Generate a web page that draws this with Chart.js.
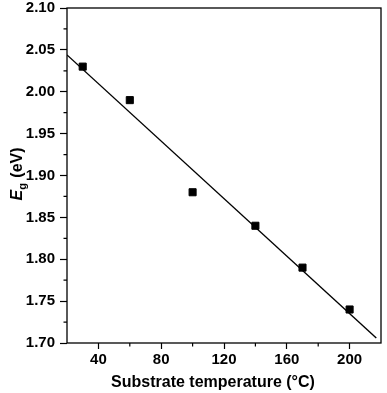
<!DOCTYPE html>
<html>
<head>
<meta charset="utf-8">
<script src="https://cdn.jsdelivr.net/npm/chart.js@4"></script>
<style>
  html, body { margin: 0; padding: 0; background: #fff; }
  #chart { display: block; }
</style>
</head>
<body>
<canvas id="chart" width="387" height="393"></canvas>
<script>
// data
const temperature = [30, 60, 100, 140, 170, 200];
const bandGap = [2.03, 1.99, 1.88, 1.84, 1.79, 1.74];
// end points of the linear fit
const fitX = [20, 217];
const fitY = [2.044, 1.706];

const xTicks = [40, 80, 120, 160, 200];
const xMinorTicks = [60, 100, 140, 180];
const yTicks = [1.70, 1.75, 1.80, 1.85, 1.90, 1.95, 2.00, 2.05, 2.10];
const yMinorTicks = [1.725, 1.775, 1.825, 1.875, 1.925, 1.975, 2.025, 2.075];

const FONT = "'Liberation Sans', Arial, sans-serif";

// frame, minor ticks and axis titles
const framePlugin = {
    id: 'frame',
    afterDraw(chart) {
        const ctx = chart.ctx;
        const area = chart.chartArea;
        const xs = chart.scales.x;
        const ys = chart.scales.y;
        ctx.save();
        ctx.strokeStyle = '#000';
        ctx.lineWidth = 1.3;
        ctx.strokeRect(area.left, area.top, area.right - area.left, area.bottom - area.top);

        // minor ticks
        ctx.lineWidth = 1.2;
        ctx.beginPath();
        xMinorTicks.forEach(v => {
            const px = xs.getPixelForValue(v);
            ctx.moveTo(px, area.bottom);
            ctx.lineTo(px, area.bottom + 3.5);
        });
        yMinorTicks.forEach(v => {
            const py = ys.getPixelForValue(v);
            ctx.moveTo(area.left, py);
            ctx.lineTo(area.left - 3.5, py);
        });
        ctx.stroke();

        // x title
        ctx.fillStyle = '#000';
        ctx.font = 'bold 16px ' + FONT;
        ctx.textAlign = 'center';
        ctx.textBaseline = 'alphabetic';
        ctx.fillText('Substrate temperature (°C)', 213, 387);

        // y title: E_g (eV)
        ctx.translate(22, 174);
        ctx.rotate(-Math.PI / 2);
        ctx.textAlign = 'left';
        const fE = 'italic bold 16px ' + FONT;
        const fSub = 'bold 11px ' + FONT;
        const fRest = 'bold 16px ' + FONT;
        ctx.font = fE; const wE = ctx.measureText('E').width;
        ctx.font = fSub; const wG = ctx.measureText('g').width + 1;
        ctx.font = fRest; const wR = ctx.measureText(' (eV)').width;
        let x0 = -(wE + wG + wR) / 2;
        ctx.font = fE; ctx.fillText('E', x0, 0);
        ctx.font = fSub; ctx.fillText('g', x0 + wE, 4);
        ctx.font = fRest; ctx.fillText(' (eV)', x0 + wE + wG, 0);
        ctx.restore();
    }
};

new Chart(document.getElementById('chart'), {
    type: 'scatter',
    data: {
        datasets: [
            {
                label: 'Eg',
                data: temperature.map((t, i) => ({ x: t, y: bandGap[i] })),
                pointStyle: 'rect',
                pointRadius: 5,
                backgroundColor: '#000',
                borderColor: '#000',
                borderWidth: 1
            },
            {
                label: 'fit',
                data: fitX.map((t, i) => ({ x: t, y: fitY[i] })),
                showLine: true,
                pointRadius: 0,
                borderColor: '#000',
                borderWidth: 1.4
            }
        ]
    },
    options: {
        responsive: false,
        animation: false,
        layout: { padding: { top: 8, right: 2, left: 0, bottom: 0 } },
        plugins: {
            legend: { display: false },
            tooltip: { enabled: false }
        },
        scales: {
            x: {
                type: 'linear',
                min: 20,
                max: 220,
                afterBuildTicks: s => { s.ticks = xTicks.map(v => ({ value: v })); },
                afterFit: s => { s.height = 50; s.paddingLeft = 0; s.paddingRight = 0; },
                border: { display: false },
                grid: {
                    drawOnChartArea: false,
                    drawTicks: true,
                    tickLength: 6,
                    tickColor: '#000',
                    tickWidth: 1.2
                },
                ticks: {
                    color: '#000',
                    padding: 2,
                    maxRotation: 0,
                    font: { family: FONT, size: 15, weight: 'bold' }
                }
            },
            y: {
                type: 'linear',
                min: 1.70,
                max: 2.10,
                afterBuildTicks: s => { s.ticks = yTicks.map(v => ({ value: v })); },
                afterFit: s => { s.width = 67; s.paddingTop = 0; s.paddingBottom = 0; },
                border: { display: false },
                grid: {
                    drawOnChartArea: false,
                    drawTicks: true,
                    tickLength: 7,
                    tickColor: '#000',
                    tickWidth: 1.2
                },
                ticks: {
                    color: '#000',
                    padding: 5,
                    callback: v => v.toFixed(2),
                    font: { family: FONT, size: 15, weight: 'bold' }
                }
            }
        }
    },
    plugins: [framePlugin]
});
</script>
</body>
</html>
